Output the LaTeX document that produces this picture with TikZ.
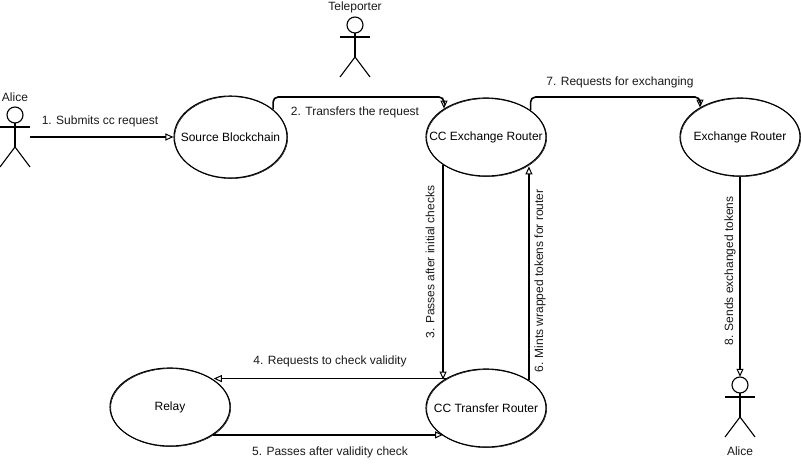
\documentclass[tikz,border=0pt]{standalone}
\usepackage{fontspec}
\setmainfont{Liberation Sans}
\usetikzlibrary{shapes.geometric,arrows.meta}

\newcommand{\stagetext}[1]{\makebox[0pt]{#1}}

\tikzset{
    stage/.style={draw, ellipse, line width=1.1pt, inner sep=0pt, minimum width=120pt, minimum height=78pt,
        postaction={draw, line width=.5pt, transform canvas={xshift=.7pt, yshift=-.6pt}}},
    actorbox/.style={inner sep=0pt, minimum width=30pt, minimum height=60pt},
    flow/.style={line width=1.6pt, -{Triangle[open, line width=1pt, length=8pt, width=7pt]}},
    lbl/.style={inner sep=0pt, text=black!90},
    stickman/.pic={
        \draw[line width=1.1pt] (0,-22) circle[radius=8];
        \draw[line width=1.1pt] (0,-14) -- (0,10);
        \draw[line width=1.1pt] (-15,-10) -- (15,-10);
        \draw[line width=1.1pt] (-15,30) -- (0,10) -- (15,30);
    }
}

\begin{document}
\begin{tikzpicture}[x=1pt, y=-1pt, font=\fontsize{12}{14}\selectfont]
\useasboundingbox (0,0) rectangle (801,468);

\node[stage, minimum width=113pt, minimum height=82pt] (source) at (230.5,137) {\stagetext{Source Blockchain}};
\node[stage] (ccex) at (486,137) {\stagetext{CC Exchange Router}};
\node[stage] (exrouter) at (740,137) {\stagetext{Exchange Router}};
\node[stage] (relay) at (170,407) {\stagetext{Relay}};
\node[stage] (cctr) at (486,408) {\stagetext{CC Transfer Router}};

\node[actorbox] (alice1) at (15,137) {};
\node[actorbox] (teleporter) at (355,47) {};
\node[actorbox] (alice2) at (740,407) {};
\pic at (alice1) {stickman};
\pic at (teleporter) {stickman};
\pic at (alice2) {stickman};

\node[lbl] (alice1name) at (15,97) {Alice};
\node[lbl] (telename) at (355,7) {Teleporter};
\node[lbl] (alice2name) at (740,451) {Alice};

\coordinate (top2) at (444,97);
\coordinate (top7) at (700,97);

\draw[flow] (alice1.east |- source) -- (source);
\draw[flow, rounded corners=5pt] (source.33) |- (top2) -- (top2 |- ccex.146);
\draw[flow] (ccex.213) -- (ccex.213 |- cctr.146);
\draw[flow] (cctr.144) -- (cctr.144 -| relay.32);
\draw[flow] (relay.-33) -- (relay.-33 -| cctr.213);
\draw[flow] (cctr.33.5) -- (cctr.33.5 |- ccex.-36);
\draw[flow, rounded corners=5pt] (ccex.31.5) |- (top7) -- (top7 |- exrouter.144);
\draw[flow] (exrouter) -- (alice2.north);

\node[lbl] (lab1) at (100,121) {1. Submits cc request};
\node[lbl] (lab2) at (355,112) {2. Transfers the request};
\node[lbl, rotate=90] (lab3) at (430,262) {3. Passes after initial checks};
\node[lbl] (lab4) at (330,361) {4. Requests to check validity};
\node[lbl] (lab5) at (330,452) {5. Passes after validity check};
\node[lbl, rotate=90] (lab6) at (540,281) {6. Mints wrapped tokens for router};
\node[lbl] (lab7) at (620,82) {7. Requests for exchanging};
\node[lbl, rotate=90] (lab8) at (730,271) {8. Sends exchanged tokens};
\end{tikzpicture}
\end{document}
